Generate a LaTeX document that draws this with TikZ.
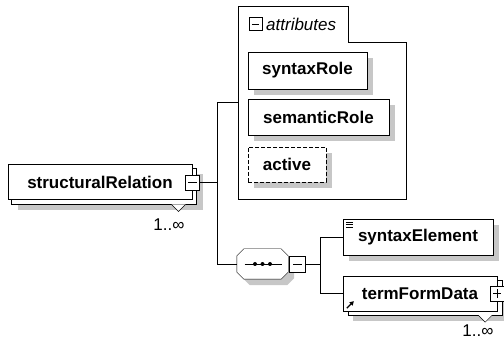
\documentclass[tikz,border=0pt]{standalone}
\usepackage{fontspec}
\setmainfont{Liberation Sans}
\usetikzlibrary{calc,arrows.meta}
\pgfdeclarelayer{shade}
\pgfdeclarelayer{copy}
\pgfsetlayers{shade,copy,main}

\tikzset{every picture/.style={line width=1pt}}
\tikzset{
  elembox/.style={draw, fill=white, inner sep=0pt, font=\fontsize{17}{20}\selectfont\bfseries},
  optbox/.style={elembox, dash pattern=on 4pt off 2pt},
  togglebox/.style={draw, fill=white, inner sep=0pt, minimum width=14pt, minimum height=15pt},
  shadefill/.style={fill=black!22, draw=none},
  card/.style={inner sep=0pt, font=\fontsize{17}{20}\selectfont},
  seqshape/.style 2 args={insert path={
    ($(#1.north west)+(0,7)+(#2)$) -- ($(#1.north west)+(7,0)+(#2)$) --
    ($(#1.north east)+(-7,0)+(#2)$) -- ($(#1.north east)+(0,7)+(#2)$) --
    ($(#1.south east)+(0,-7)+(#2)$) -- ($(#1.south east)+(-7,0)+(#2)$) --
    ($(#1.south west)+(7,0)+(#2)$) -- ($(#1.south west)+(0,-7)+(#2)$) -- cycle}},
}

\begin{document}
\begin{tikzpicture}[x=1pt,y=1pt,yscale=-1,xscale=1]
\useasboundingbox (0,0) rectangle (504,342);

%Element: structuralRelation
\node[elembox, minimum width=184pt, minimum height=35pt] (structuralRelation) at (100,182.5) {structuralRelation};
\begin{pgfonlayer}{copy}
\draw[fill=white] ($(structuralRelation.north west)+(4,4)$) rectangle ($(structuralRelation.south east)+(4,4)$);
\filldraw[fill=white] ($(structuralRelation.south east)+(-21,4)$) -- ++(7,7) -- ++(7,-7);
\end{pgfonlayer}
\begin{pgfonlayer}{shade}
\fill[shadefill] ($(structuralRelation.north west)+(10,10)$) rectangle ($(structuralRelation.south east)+(10,10)$);
\end{pgfonlayer}
\node[togglebox] (srToggle) at (structuralRelation.east) {};
\draw ($(srToggle.west)+(3,0)$) -- ($(srToggle.east)+(-3,0)$);
\node[card] (srCount) at (169,225) {1..∞};

%Group: attributes
\node[draw=none, minimum width=168pt, minimum height=193pt, inner sep=0pt] (attributes) at (322,102.5) {};
\draw (attributes.south west) -- (attributes.north west) -- ++(110,0) -- ++(0,36) -| (attributes.south east) -- cycle;
\node[togglebox, minimum width=13pt, minimum height=13pt] (attrToggle) at (255.5,24) {};
\draw ($(attrToggle.west)+(3,0)$) -- ($(attrToggle.east)+(-3,0)$);
\node[card, anchor=west, font=\fontsize{17}{20}\selectfont\itshape] (attrLabel) at (266,24) {attributes};

\node[elembox, minimum width=119pt, minimum height=37pt] (syntaxRole) at (307.5,70.5) {syntaxRole};
\node[elembox, minimum width=141pt, minimum height=36pt] (semanticRole) at (318.5,117) {semanticRole};
\node[optbox, minimum width=78pt, minimum height=35pt] (active) at (287,164.5) {active};

%Compositor: sequence
\node[minimum width=51pt, minimum height=30pt, inner sep=0pt] (sequence) at (262.5,264) {};
\begin{pgfonlayer}{shade}
\fill[shadefill, seqshape={sequence}{6,6}];
\end{pgfonlayer}
\draw[fill=white, seqshape={sequence}{0,0}];
\draw ($(sequence.center)+(-18,0)$) -- ($(sequence.center)+(19,0)$);
\foreach \dx in {-7.5,0,7.5}
  \fill ($(sequence.center)+(\dx,0)$) circle (2);
\node[togglebox, minimum width=16pt, minimum height=16pt, anchor=west] (seqToggle) at ($(sequence.east)+(1,0)$) {};
\draw ($(seqToggle.west)+(4,0)$) -- ($(seqToggle.east)+(-4,0)$);

%Element: syntaxElement
\node[elembox, minimum width=150pt, minimum height=36pt] (syntaxElement) at (418,237) {syntaxElement};
\foreach \dy in {3.5,6,8.5}
  \draw[line width=0.8pt] ($(syntaxElement.north west)+(3,\dy)$) -- ++(7,0);

%Element: termFormData
\node[elembox, minimum width=154pt, minimum height=35pt] (termFormData) at (420,293.5) {termFormData};
\begin{pgfonlayer}{copy}
\draw[fill=white] ($(termFormData.north west)+(5,4)$) rectangle ($(termFormData.south east)+(5,4)$);
\filldraw[fill=white] ($(termFormData.south east)+(-19,4)$) -- ++(7,7) -- ++(7,-7);
\end{pgfonlayer}
\begin{pgfonlayer}{shade}
\fill[shadefill] ($(termFormData.north west)+(10,10)$) rectangle ($(termFormData.south east)+(10,10)$);
\foreach \n in {syntaxRole,semanticRole,active,syntaxElement}
  \fill[shadefill] ($(\n.north west)+(6,6)$) rectangle ($(\n.south east)+(6,6)$);
\end{pgfonlayer}
\node[togglebox] (tfdToggle) at (termFormData.east) {};
\draw ($(tfdToggle.west)+(3,0)$) -- ($(tfdToggle.east)+(-3,0)$);
\draw ($(tfdToggle.north)+(0,3)$) -- ($(tfdToggle.south)+(0,-3)$);
\draw[-{Triangle[length=4pt,width=4.5pt]}, line width=1.3pt] ($(termFormData.south west)+(4,-3)$) -- ++(7,-7);
\node[card] (tfdCount) at (478,331) {1..∞};

%Connectors
\coordinate (srJoint) at ($(srToggle.east)+(17,0)$);
\draw (srToggle.east) -- (srJoint);
\draw (attributes.west) -| (srJoint) |- (sequence.west);
\coordinate (seqJoint) at ($(seqToggle.east)+(15,0)$);
\draw (seqToggle.east) -- (seqJoint);
\draw (syntaxElement.west) -| (seqJoint) |- (termFormData.west);

\end{tikzpicture}
\end{document}
